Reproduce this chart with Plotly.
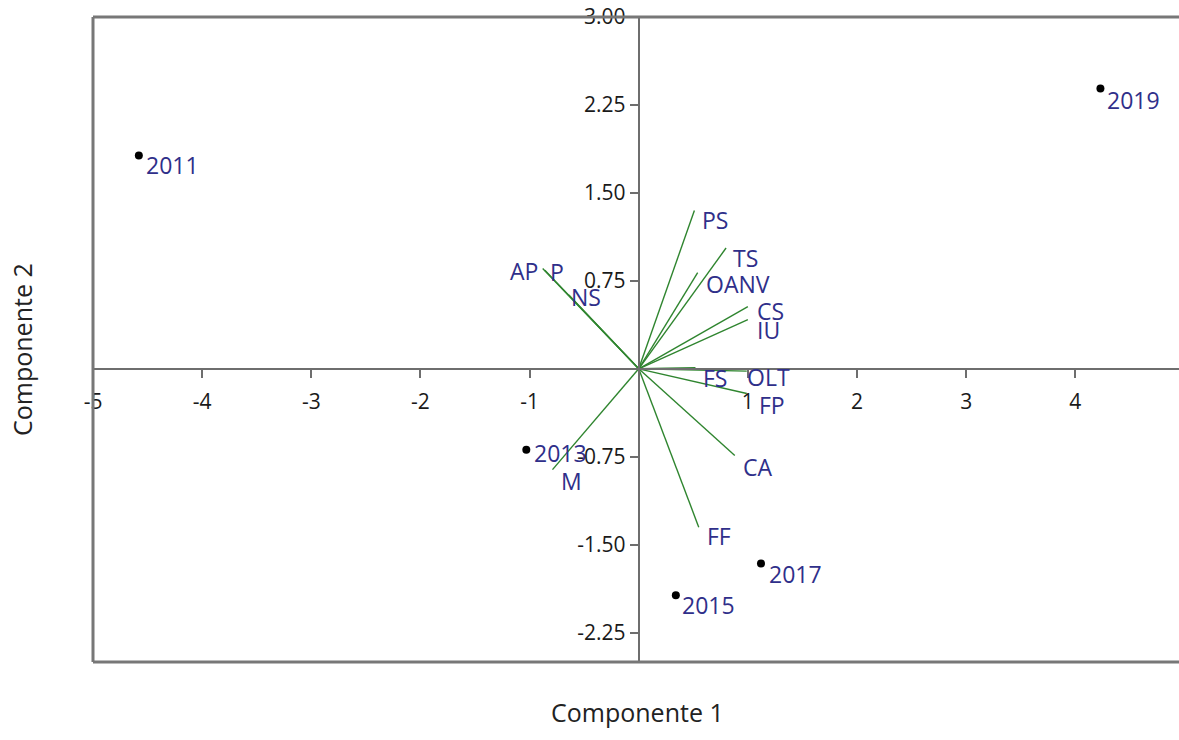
import plotly.graph_objects as go

# ---- data ----
years = ["2011", "2013", "2015", "2017", "2019"]
pc1 = [-4.58, -1.03, 0.34, 1.12, 4.23]
pc2 = [1.82, -0.69, -1.93, -1.66, 2.39]

var_names = ["PS", "TS", "OANV", "CS", "IU", "FS", "OLT", "FP", "CA", "FF", "M", "AP", "P", "NS"]
load1 = [0.51, 0.80, 0.54, 1.00, 1.00, 0.52, 0.99, 0.99, 0.88, 0.55, -0.79, -0.88, -0.86, -0.64]
load2 = [1.35, 1.03, 0.82, 0.53, 0.42, 0.01, -0.02, -0.21, -0.74, -1.35, -0.86, 0.855, 0.84, 0.63]

x_ticks = [-5, -4, -3, -2, -1, 1, 2, 3, 4]
x_ticktext = ["-5", "-4", "-3", "-2", "-1", "1", "2", "3", "4"]
y_ticks = [-2.25, -1.5, -0.75, 0.75, 1.5, 2.25, 3.0]
y_ticktext = ["-2.25", "-1.50", "-0.75", "0.75", "1.50", "2.25", "3.00"]

# ---- styles ----
FONT = "Open Sans, Noto Sans, sans-serif"
TICK_SIZE = 21
LABEL_SIZE = 23
TITLE_SIZE = 25
LABEL_COLOR = "#2f2f8a"
LINE_GREEN = "#2f852f"
AXIS_GRAY = "#6e6e6e"

# label pixel offsets (xshift, yshift, xanchor)
var_offsets = {
    "PS": (6, -9, "left"), "TS": (5, -10, "left"), "OANV": (6, -11, "left"),
    "CS": (7, -4, "left"), "IU": (7, -10, "left"), "FS": (6, -10, "left"),
    "OLT": (-2, -6, "left"), "FP": (10, -12, "left"), "CA": (6, -11, "left"),
    "FF": (6, -9, "left"), "M": (6, -11, "left"), "AP": (-3, -2, "right"),
    "P": (3, -2, "left"), "NS": (0, -2, "left"),
}
year_offsets = {
    "2011": (5, -10), "2013": (6, -3), "2015": (4, -10), "2017": (6, -11), "2019": (5, -11),
}

X_MIN, X_MAX = -5.0, 4.95
Y_MIN, Y_MAX = -2.5, 3.0

fig = go.Figure()

# loading vectors
vx, vy = [], []
for a, b in zip(load1, load2):
    vx += [0, a, None]
    vy += [0, b, None]
fig.add_trace(go.Scatter(x=vx, y=vy, mode="lines",
                         line=dict(color=LINE_GREEN, width=1.4),
                         hoverinfo="skip", showlegend=False))

# score points
fig.add_trace(go.Scatter(x=pc1, y=pc2, mode="markers",
                         marker=dict(color="black", size=8),
                         showlegend=False))

annotations = []
for name, a, b in zip(var_names, load1, load2):
    xs, ys, xa = var_offsets[name]
    annotations.append(dict(x=a, y=b, text=name, showarrow=False, xanchor=xa, yanchor="middle",
                            xshift=xs, yshift=ys, font=dict(family=FONT, size=LABEL_SIZE, color=LABEL_COLOR)))
for name, a, b in zip(years, pc1, pc2):
    xs, ys = year_offsets[name]
    annotations.append(dict(x=a, y=b, text=name, showarrow=False, xanchor="left", yanchor="middle",
                            xshift=xs, yshift=ys, font=dict(family=FONT, size=LABEL_SIZE, color=LABEL_COLOR)))

# axis titles
PLOT_L, PLOT_R, PLOT_T, PLOT_B = 93, 1179, 17, 662
annotations.append(dict(x=(637 - PLOT_L) / (PLOT_R - PLOT_L), y=-(712 - PLOT_B) / (PLOT_B - PLOT_T),
                        xref="paper", yref="paper", xanchor="center", yanchor="middle",
                        text="Componente 1", showarrow=False,
                        font=dict(family=FONT, size=TITLE_SIZE, color="#222")))
annotations.append(dict(x=-(PLOT_L - 22) / (PLOT_R - PLOT_L), y=(PLOT_B - 350) / (PLOT_B - PLOT_T),
                        xref="paper", yref="paper", xanchor="center", yanchor="middle",
                        text="Componente 2", showarrow=False, textangle=-90,
                        font=dict(family=FONT, size=TITLE_SIZE, color="#222")))

fy0 = (0 - Y_MIN) / (Y_MAX - Y_MIN)
fx0 = (0 - X_MIN) / (X_MAX - X_MIN)

fig.update_layout(
    width=1179, height=740,
    margin=dict(l=PLOT_L, r=1179 - PLOT_R, t=PLOT_T, b=740 - PLOT_B),
    paper_bgcolor="white", plot_bgcolor="white",
    font=dict(family=FONT, size=TICK_SIZE, color="#1a1a1a"),
    xaxis=dict(range=[X_MIN, X_MAX], showgrid=False, zeroline=False,
               anchor="free", position=fy0, showline=True, linecolor=AXIS_GRAY, linewidth=2,
               ticks="outside", ticklen=8, tickwidth=2, tickcolor=AXIS_GRAY,
               tickvals=x_ticks, ticktext=x_ticktext, ticklabelstandoff=6),
    yaxis=dict(range=[Y_MIN, Y_MAX], showgrid=False, zeroline=False,
               anchor="free", position=fx0, showline=True, linecolor=AXIS_GRAY, linewidth=2,
               ticks="outside", ticklen=8, tickwidth=2, tickcolor=AXIS_GRAY,
               tickvals=y_ticks, ticktext=y_ticktext),
    annotations=annotations,
    shapes=[
        dict(type="line", xref="paper", yref="paper", x0=0, x1=0, y0=0, y1=1,
             line=dict(color="#777777", width=3)),
        dict(type="line", xref="paper", yref="paper", x0=0, x1=1, y0=1, y1=1,
             line=dict(color="#777777", width=3)),
        dict(type="line", xref="paper", yref="paper", x0=0, x1=1, y0=0, y1=0,
             line=dict(color="#777777", width=3)),
    ],
)

fig.write_html("out.html")
